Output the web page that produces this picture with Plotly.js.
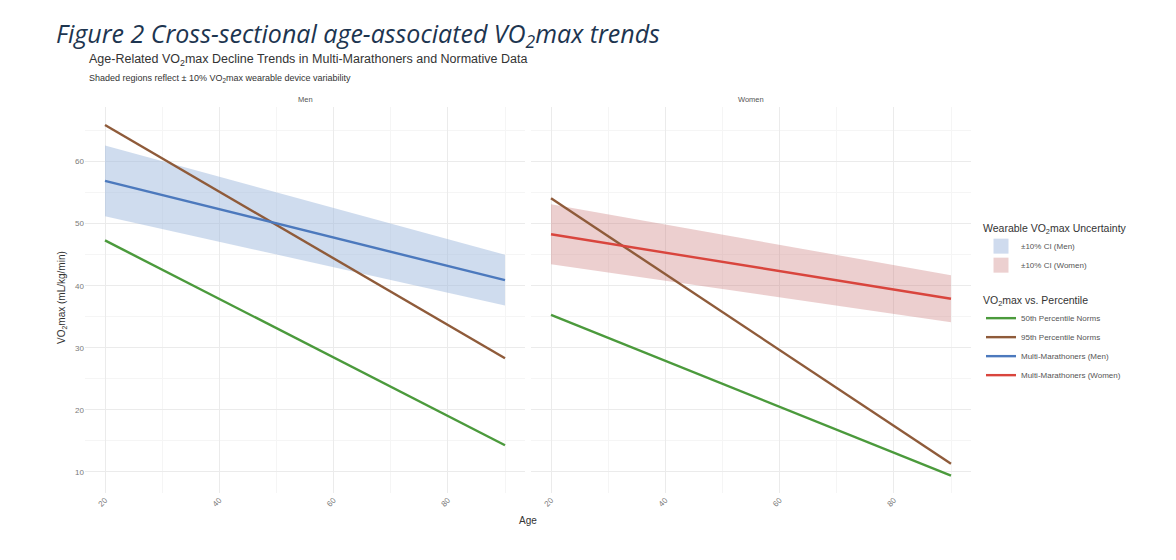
<!DOCTYPE html>
<html>
<head>
<meta charset="utf-8">
<script src="https://cdn.plot.ly/plotly-3.0.1.min.js"></script>
<style>html,body{margin:0;padding:0;background:#fff;}#chart{width:1176px;height:560px;}</style>
</head>
<body>
<div id="chart"></div>
<script>
// ---- data ----
const ages = [20, 90];
const menP50 = [47.3, 14.3];
const menP95 = [65.9, 28.3];
const menMulti = [56.9, 40.9];
const womenP50 = [35.3, 9.4];
const womenP95 = [54.1, 11.3];
const womenMulti = [48.3, 37.9];
const variability = 0.10;
const xTicks = [20, 40, 60, 80];
const yTicks = [10, 20, 30, 40, 50, 60];

const W = 1176, H = 560;
const px = v => v / W, py = v => 1 - v / H;

const C = {
  green: '#4b9a3c', brown: '#8f5b3a', blue: '#4c79bd', red: '#d9453d',
  blueBand: 'rgba(160,185,222,0.5)', redBand: 'rgba(205,130,130,0.38)',
  blueSw: '#cfdbee', redSw: '#ecd0d0'
};

function band(vals, xa, ya, color, name) {
  const up = vals.map(v => v * (1 + variability));
  const lo = vals.map(v => v * (1 - variability));
  return {
    x: ages.concat(ages.slice().reverse()),
    y: up.concat(lo.slice().reverse()),
    xaxis: xa, yaxis: ya, type: 'scatter', mode: 'lines',
    fill: 'toself', fillcolor: color, line: {width: 0, color: color},
    name: name, showlegend: false, hoverinfo: 'skip'
  };
}
function swatch(color, name) {
  return {
    x: [null], y: [null], type: 'scatter', mode: 'markers',
    marker: {symbol: 'square', size: 15, color: color, line: {width: 0}},
    name: name, showlegend: true, legend: 'legend'
  };
}
function line(vals, xa, ya, color, name, show, group) {
  return {
    x: ages, y: vals, xaxis: xa, yaxis: ya, type: 'scatter', mode: 'lines',
    line: {color: color, width: 2.4}, name: name, showlegend: show,
    legend: 'legend2', legendgroup: group
  };
}

const traces = [
  band(menMulti, 'x', 'y', C.blueBand, '±10% CI (Men)'),
  band(womenMulti, 'x2', 'y2', C.redBand, '±10% CI (Women)'),
  swatch(C.blueSw, '±10% CI (Men)'),
  swatch(C.redSw, '±10% CI (Women)'),
  line(menP50, 'x', 'y', C.green, '50th Percentile Norms', true, 'p50'),
  line(womenP50, 'x2', 'y2', C.green, '50th Percentile Norms', false, 'p50'),
  line(menP95, 'x', 'y', C.brown, '95th Percentile Norms', true, 'p95'),
  line(womenP95, 'x2', 'y2', C.brown, '95th Percentile Norms', false, 'p95'),
  line(menMulti, 'x', 'y', C.blue, 'Multi-Marathoners (Men)', true, 'mm'),
  line(womenMulti, 'x2', 'y2', C.red, 'Multi-Marathoners (Women)', true, 'mw')
];

const gridC = '#ebebeb', minorC = '#f5f5f5';
const tickFont = {family: 'Liberation Sans, Arial, sans-serif', size: 8, color: '#7a7a7a'};
function xax(dom) {
  return {
    domain: dom, range: [16.5, 93.5], tickvals: xTicks, ticktext: xTicks.map(String),
    tickangle: -45, showgrid: true, gridcolor: gridC, gridwidth: 1, zeroline: false,
    showline: false, ticks: '', tickfont: tickFont, fixedrange: true,
    minor: {tickvals: [30, 50, 70, 90], showgrid: true, gridcolor: minorC, gridwidth: 1}
  };
}
function yax(show, anchor) {
  return {
    domain: [py(493), py(107)], range: [6.6, 68.8], tickvals: yTicks,
    showticklabels: show, showgrid: true, gridcolor: gridC, zeroline: false,
    showline: false, ticks: '', tickfont: tickFont, anchor: anchor, fixedrange: true,
    minor: {tickvals: [15, 25, 35, 45, 55, 65], showgrid: true, gridcolor: minorC, gridwidth: 1}
  };
}

const layout = {
  width: W, height: H, margin: {l: 0, r: 0, t: 0, b: 0},
  paper_bgcolor: '#fff', plot_bgcolor: '#fff',
  font: {family: 'Liberation Sans, Arial, sans-serif', color: '#333'},
  xaxis: Object.assign(xax([px(85), px(525)]), {anchor: 'y'}),
  xaxis2: Object.assign(xax([px(531), px(971)]), {anchor: 'y2'}),
  yaxis: yax(true, 'x'),
  yaxis2: yax(false, 'x2'),
  showlegend: true,
  legend: {
    x: px(981), y: py(218), xanchor: 'left', yanchor: 'top',
    title: {text: 'Wearable VO<sub>2</sub>max Uncertainty', font: {size: 10.5, color: '#333'}},
    font: {size: 8, color: '#555'}, bgcolor: 'rgba(0,0,0,0)', tracegroupgap: 0, itemwidth: 30
  },
  legend2: {
    x: px(981), y: py(290), xanchor: 'left', yanchor: 'top',
    title: {text: 'VO<sub>2</sub>max vs. Percentile', font: {size: 10.5, color: '#333'}},
    font: {size: 8, color: '#555'}, bgcolor: 'rgba(0,0,0,0)', tracegroupgap: 0, itemwidth: 30
  },
  annotations: [
    {text: 'Figure 2 Cross-sectional age-associated VO<sub>2</sub>max trends', xref: 'paper', yref: 'paper',
     x: px(54), y: py(34), xanchor: 'left', yanchor: 'middle', showarrow: false,
     font: {family: 'Open Sans, DejaVu Sans, sans-serif', size: 25, color: '#1d3550', style: 'italic'}},
    {text: 'Age-Related VO<sub>2</sub>max Decline Trends in Multi-Marathoners and Normative Data', xref: 'paper', yref: 'paper',
     x: px(87), y: py(60), xanchor: 'left', yanchor: 'middle', showarrow: false,
     font: {size: 12.5, color: '#333'}},
    {text: 'Shaded regions reflect \u00b1 10% VO<sub>2</sub>max wearable device variability', xref: 'paper', yref: 'paper',
     x: px(87), y: py(79), xanchor: 'left', yanchor: 'middle', showarrow: false,
     font: {size: 9, color: '#333'}},
    {text: 'Men', xref: 'paper', yref: 'paper', x: px(305), y: py(99), xanchor: 'center', yanchor: 'middle',
     showarrow: false, font: {size: 7.5, color: '#555'}},
    {text: 'Women', xref: 'paper', yref: 'paper', x: px(751), y: py(99), xanchor: 'center', yanchor: 'middle',
     showarrow: false, font: {size: 7.5, color: '#555'}},
    {text: 'VO<sub>2</sub>max (mL/kg/min)', xref: 'paper', yref: 'paper', x: px(62), y: py(298),
     xanchor: 'center', yanchor: 'middle', textangle: -90, showarrow: false, font: {size: 10, color: '#333'}},
    {text: 'Age', xref: 'paper', yref: 'paper', x: px(528), y: py(520), xanchor: 'center', yanchor: 'middle',
     showarrow: false, font: {size: 10, color: '#333'}}
  ]
};

Plotly.newPlot('chart', traces, layout, {displayModeBar: false, staticPlot: true});
</script>
</body>
</html>
